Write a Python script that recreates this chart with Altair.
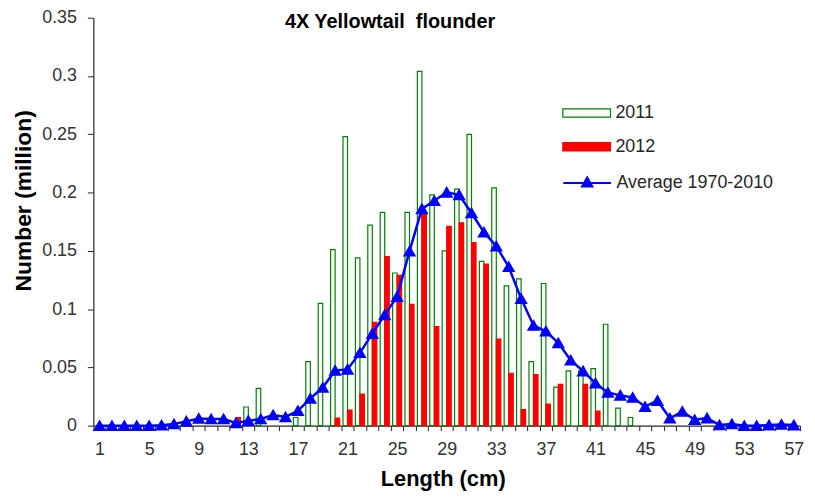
import altair as alt
import pandas as pd

lengths = list(range(1, 58))

# 2011 survey (green outline bars), index = length 1..57
y2011 = [0, 0, 0, 0, 0, 0, 0, 0, 0, 0, 0, 0, 0.016, 0.032, 0, 0, 0.007, 0.055, 0.105, 0.151,
         0.248, 0.144, 0.172, 0.183, 0.131, 0.183, 0.304, 0.198, 0.150, 0.203,
         0.250, 0.141, 0.204, 0.120, 0.126, 0.055, 0.122, 0.033, 0.047, 0.047,
         0.049, 0.087, 0.015, 0.007, 0, 0, 0, 0, 0, 0, 0, 0, 0, 0, 0, 0, 0]

# 2012 survey (red filled bars)
y2012 = [0, 0, 0, 0, 0, 0, 0, 0, 0, 0, 0, 0.007, 0, 0, 0, 0, 0, 0, 0, 0.0066,
         0.0134, 0.027, 0.0886, 0.145, 0.129, 0.104, 0.182, 0.085, 0.171, 0.174,
         0.157, 0.1386, 0.0743, 0.045, 0.0137, 0.0438, 0.0185, 0.0355, 0, 0.0355,
         0.0125, 0, 0, 0, 0, 0, 0, 0, 0, 0, 0, 0, 0, 0, 0, 0, 0]

# Average 1970-2010 (blue line with triangles)
avg = [0, 0, 0, 0, 0, 0.0003, 0.0014, 0.0037, 0.0062, 0.0057, 0.0057, 0.0023, 0.0043, 0.0057,
       0.0091, 0.0075, 0.0128, 0.0233, 0.0327, 0.0474, 0.0483, 0.0625, 0.079, 0.0951,
       0.1107, 0.1497, 0.186, 0.193, 0.2002, 0.198, 0.1825, 0.166, 0.154, 0.1363,
       0.109, 0.086, 0.081, 0.071, 0.0562, 0.0468, 0.0364, 0.0284, 0.026, 0.0242,
       0.0163, 0.0215, 0.0063, 0.0122, 0.0051, 0.0065, 0.0006, 0.0014, 0, 0,
       0.0005, 0.001, 0.0005]

y_ticks = [0, 0.05, 0.1, 0.15, 0.2, 0.25, 0.3, 0.35]
years = ["2011", "2012"]
avg_name = "Average 1970-2010"

bars_df = pd.DataFrame({
    "length": lengths * 2,
    "year": ["2011"] * len(lengths) + ["2012"] * len(lengths),
    "value": y2011 + y2012,
})
avg_df = pd.DataFrame({"length": lengths, "value": avg, "series": [avg_name] * len(lengths)})

FONT = "Liberation Sans"
W = 712

x_enc = alt.X(
    "length:O",
    scale=alt.Scale(domain=lengths, paddingInner=0, paddingOuter=0),
    axis=alt.Axis(
        title="Length (cm)",
        labelExpr="(datum.value - 1) % 4 == 0 ? datum.label : ''",
        labelAngle=0,
        labelOverlap=False,
        tickBand="extent",
        tickSize=5,
        labelPadding=10,
        titleX=352,
        titleY=60,
        titleBaseline="alphabetic",
        titleAlign="center",
    ),
)
y_enc = alt.Y(
    "value:Q",
    scale=alt.Scale(domain=[0, 0.35], nice=False, zero=True),
    axis=alt.Axis(
        title="Number (million)",
        titleFontSize=23,
        values=y_ticks,
        format="~g",
        tickSize=6,
        labelPadding=11,
        titleAngle=270,
        titleX=-63,
        titleY=184,
        titleBaseline="alphabetic",
        titleAlign="center",
    ),
)

rect_path = "M-2,-0.35H2V0.35H-2Z"
line_path = "M-2,0H2M0,-0.45L0.42,0.28H-0.42Z"

bar_legend = alt.Legend(
    title=None, orient="none", legendX=484, legendY=83, symbolType=rect_path,
    symbolSize=576, symbolStrokeWidth=1.2, labelOffset=16, rowPadding=12, padding=0,
)
bars = alt.Chart(bars_df).transform_filter("datum.value > 0").mark_bar(strokeWidth=1.2).encode(
    x=x_enc,
    xOffset=alt.XOffset("year:N", scale=alt.Scale(domain=years, paddingInner=0, paddingOuter=0.37)),
    y=y_enc,
    fill=alt.Fill("year:N", scale=alt.Scale(domain=years, range=["white", "#ff0000"]), legend=bar_legend),
    stroke=alt.Stroke("year:N", scale=alt.Scale(domain=years, range=["#008000", "#ff0000"]), legend=bar_legend),
)

line = alt.Chart(avg_df).mark_line(color="#0000ff", strokeWidth=2.5).encode(x=x_enc, y=y_enc)

avg_legend = alt.Legend(
    title=None, orient="none", legendX=484, legendY=153, symbolType=line_path,
    symbolSize=576, symbolStrokeWidth=2.2, labelOffset=16, padding=0,
)
points = alt.Chart(avg_df).mark_point(filled=True, shape="triangle-up", size=100, opacity=1).encode(
    x=x_enc,
    y=y_enc,
    fill=alt.Fill("series:N", scale=alt.Scale(domain=[avg_name], range=["#0000ff"]), legend=avg_legend),
    stroke=alt.Stroke("series:N", scale=alt.Scale(domain=[avg_name], range=["#0000ff"]), legend=avg_legend),
)

chart = alt.layer(bars, line, points).resolve_scale(
    fill="independent", stroke="independent"
).properties(
    width=W,
    height=411,
    autosize=alt.AutoSizeParams(type="none"),
    padding={"left": 86, "top": 8, "right": 7, "bottom": 64},
    title=alt.TitleParams(
        text="4X Yellowtail\u00a0 flounder", anchor="start", frame="group", dx=193, dy=39, offset=0,
        baseline="alphabetic", fontSize=20, fontWeight="bold", font=FONT, color="#000000",
    ),
).configure_view(stroke=None).configure_axis(
    labelFont=FONT, labelFontSize=18, labelColor="#333333",
    titleFont=FONT, titleFontSize=22, titleFontWeight="bold", titleColor="#000000",
    domainColor="#262626", tickColor="#262626", grid=False, domainWidth=1.2, tickWidth=1,
).configure_legend(
    labelFont=FONT, labelFontSize=18, labelColor="#262626",
)

chart.save("out.html", embed_options={"renderer": "svg", "actions": False})
